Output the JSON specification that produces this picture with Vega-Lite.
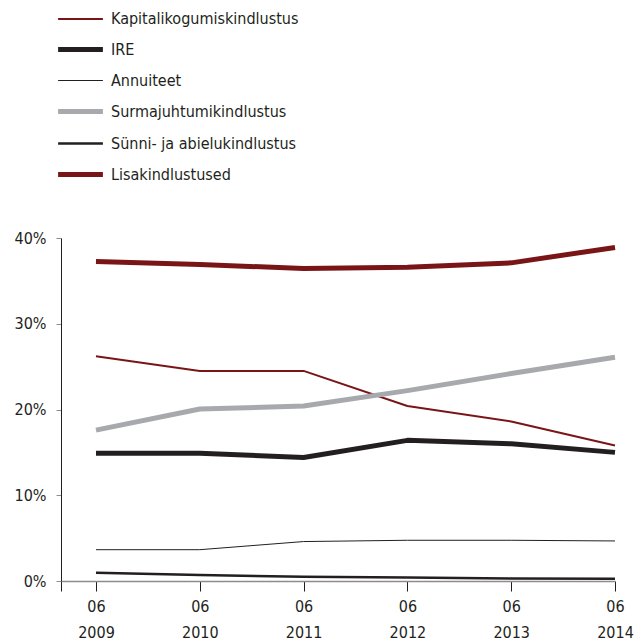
{
  "$schema": "https://vega.github.io/schema/vega-lite/v6.json",
  "width": 554,
  "height": 343,
  "autosize": {"type": "none"},
  "padding": {"left": 61, "top": 238, "right": 20, "bottom": 60},
  "background": "white",
  "config": {
    "view": {"stroke": null},
    "font": "'DejaVu Sans Condensed', 'Open Sans', sans-serif"
  },
  "data": {
    "values": [
      {"s": "Kapitalikogumiskindlustus", "year": 2009, "v": 26.2},
      {"s": "Kapitalikogumiskindlustus", "year": 2010, "v": 24.5},
      {"s": "Kapitalikogumiskindlustus", "year": 2011, "v": 24.5},
      {"s": "Kapitalikogumiskindlustus", "year": 2012, "v": 20.4},
      {"s": "Kapitalikogumiskindlustus", "year": 2013, "v": 18.6},
      {"s": "Kapitalikogumiskindlustus", "year": 2014, "v": 15.8},
      {"s": "IRE", "year": 2009, "v": 14.9},
      {"s": "IRE", "year": 2010, "v": 14.9},
      {"s": "IRE", "year": 2011, "v": 14.4},
      {"s": "IRE", "year": 2012, "v": 16.4},
      {"s": "IRE", "year": 2013, "v": 16.0},
      {"s": "IRE", "year": 2014, "v": 15.0},
      {"s": "Annuiteet", "year": 2009, "v": 3.65},
      {"s": "Annuiteet", "year": 2010, "v": 3.65},
      {"s": "Annuiteet", "year": 2011, "v": 4.6},
      {"s": "Annuiteet", "year": 2012, "v": 4.75},
      {"s": "Annuiteet", "year": 2013, "v": 4.75},
      {"s": "Annuiteet", "year": 2014, "v": 4.67},
      {"s": "Surmajuhtumikindlustus", "year": 2009, "v": 17.6},
      {"s": "Surmajuhtumikindlustus", "year": 2010, "v": 20.05},
      {"s": "Surmajuhtumikindlustus", "year": 2011, "v": 20.4},
      {"s": "Surmajuhtumikindlustus", "year": 2012, "v": 22.2},
      {"s": "Surmajuhtumikindlustus", "year": 2013, "v": 24.2},
      {"s": "Surmajuhtumikindlustus", "year": 2014, "v": 26.1},
      {"s": "Sünni- ja abielukindlustus", "year": 2009, "v": 0.97},
      {"s": "Sünni- ja abielukindlustus", "year": 2010, "v": 0.7},
      {"s": "Sünni- ja abielukindlustus", "year": 2011, "v": 0.5},
      {"s": "Sünni- ja abielukindlustus", "year": 2012, "v": 0.4},
      {"s": "Sünni- ja abielukindlustus", "year": 2013, "v": 0.3},
      {"s": "Sünni- ja abielukindlustus", "year": 2014, "v": 0.25},
      {"s": "Lisakindlustused", "year": 2009, "v": 37.25},
      {"s": "Lisakindlustused", "year": 2010, "v": 36.9},
      {"s": "Lisakindlustused", "year": 2011, "v": 36.45},
      {"s": "Lisakindlustused", "year": 2012, "v": 36.6},
      {"s": "Lisakindlustused", "year": 2013, "v": 37.1},
      {"s": "Lisakindlustused", "year": 2014, "v": 38.9}
    ]
  },
  "mark": {"type": "line", "strokeCap": "butt", "strokeJoin": "round"},
  "encoding": {
    "x": {
      "field": "year",
      "type": "quantitative",
      "scale": {"domain": [2008.663, 2014], "nice": false, "zero": false},
      "axis": {
        "title": null,
        "values": [2008.663, 2009, 2010, 2011, 2012, 2013, 2014],
        "labelExpr": "datum.value < 2008.9 ? '' : ['06', format(datum.value, 'd')]",
        "grid": false,
        "domainColor": "#8c8c8c",
        "domainWidth": 1.5,
        "tickColor": "#231f20",
        "tickSize": 10,
        "labelFontSize": 16,
        "labelColor": "#231f20",
        "labelLineHeight": 26,
        "labelPadding": 7,
        "labelFlush": false,
        "labelOverlap": false
      }
    },
    "y": {
      "field": "v",
      "type": "quantitative",
      "scale": {"domain": [0, 40], "nice": false},
      "axis": {
        "title": null,
        "values": [0, 10, 20, 30, 40],
        "labelExpr": "datum.value + '%'",
        "grid": false,
        "domainColor": "#231f20",
        "domainWidth": 1,
        "tickColor": "#8c8c8c",
        "tickSize": 5,
        "labelFontSize": 16,
        "labelColor": "#231f20",
        "labelPadding": 10
      }
    },
    "color": {
      "field": "s",
      "type": "nominal",
      "scale": {
        "domain": ["Kapitalikogumiskindlustus", "IRE", "Annuiteet", "Surmajuhtumikindlustus", "Sünni- ja abielukindlustus", "Lisakindlustused"],
        "range": ["#7a1517", "#231f20", "#231f20", "#a7a9ac", "#231f20", "#7a1517"]
      },
      "legend": {
        "title": null,
        "orient": "none",
        "legendX": 1,
        "legendY": -236,
        "symbolType": "M-1.4,0H1.4",
        "symbolSize": 1024,
        "labelFontSize": 16,
        "labelColor": "#231f20",
        "labelLimit": 400,
        "rowPadding": 4,
        "labelOffset": 12
      }
    },
    "strokeWidth": {
      "field": "s",
      "type": "nominal",
      "scale": {
        "type": "ordinal",
        "domain": ["Kapitalikogumiskindlustus", "IRE", "Annuiteet", "Surmajuhtumikindlustus", "Sünni- ja abielukindlustus", "Lisakindlustused"],
        "range": [2, 5, 1, 5, 2.5, 5]
      },
      "legend": {
        "title": null,
        "orient": "none",
        "legendX": 1,
        "legendY": -236,
        "symbolType": "M-1.4,0H1.4",
        "symbolSize": 1024,
        "labelFontSize": 16,
        "labelColor": "#231f20",
        "labelLimit": 400,
        "rowPadding": 4,
        "labelOffset": 12
      }
    }
  }
}
